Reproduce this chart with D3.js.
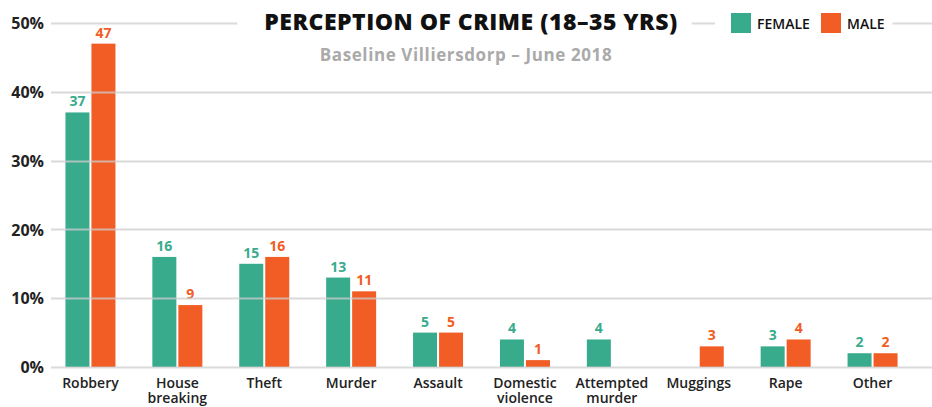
<!DOCTYPE html>
<html><head><meta charset="utf-8">
<script src="https://cdn.jsdelivr.net/npm/d3@7"></script>
<style>
body{margin:0;background:#fff;}
text{font-family:"Open Sans",sans-serif;}
</style></head>
<body><svg id="c" width="932" height="407"></svg>
<script>
const categories = ["Robbery","House breaking","Theft","Murder","Assault","Domestic violence","Attempted murder","Muggings","Rape","Other"];
const categoryLines = [["Robbery"],["House","breaking"],["Theft"],["Murder"],["Assault"],["Domestic","violence"],["Attempted","murder"],["Muggings"],["Rape"],["Other"]];
const female = [37,16,15,13,5,4,4,0,3,2];
const male = [47,9,16,11,5,1,0,3,4,2];
const yTicks = [0,10,20,30,40,50];
const seriesNames = ["FEMALE","MALE"];
const colors = ["#39AB8D","#F15D24"];
const title = "PERCEPTION OF CRIME (18–35 YRS)";
const subtitle = "Baseline Villiersdorp – June 2018";

const svg = d3.select("#c");
const left = 51, right = 932;
const y = d3.scaleLinear().domain([0,50]).range([367,23]);
const x = d3.scaleBand().domain(categories).range([47,916]).paddingInner(0).paddingOuter(0);
const bw = 24;

// bars
const series = [female, male];
series.forEach((vals, si) => {
  const g = svg.append("g");
  categories.forEach((c, i) => {
    const v = vals[i];
    if (v <= 0) return;
    const cx = x(c) + x.bandwidth()/2;
    const bx = cx + (si === 0 ? -bw - 1 : 1);
    g.append("rect").attr("x", bx).attr("y", y(v)).attr("width", bw).attr("height", y(0) - y(v)).attr("fill", colors[si]);
    g.append("text").attr("x", bx + bw/2).attr("y", y(v) - 6).attr("text-anchor","middle")
      .attr("font-size",14).attr("font-weight",700).attr("fill",colors[si]).text(v);
  });
});

// title
const tt = svg.append("text").attr("x",471).attr("y",30).attr("text-anchor","middle")
  .attr("font-size",23).attr("font-weight",800).attr("letter-spacing",0.5).attr("fill","#111").text(title);
svg.append("text").attr("x",466).attr("y",61).attr("text-anchor","middle")
  .attr("font-size",17).attr("font-weight",700).attr("letter-spacing",0.6).attr("fill","#aaaaaa").text(subtitle);

// legend
const lg = svg.append("g");
const legX = [731, 821];
seriesNames.forEach((n, i) => {
  lg.append("rect").attr("x", legX[i]).attr("y",13).attr("width",20).attr("height",20).attr("fill",colors[i]);
  lg.append("text").attr("x", legX[i]+26).attr("y",28.5).attr("font-size",14).attr("font-weight",600).attr("fill","#111").text(n);
});

// gridlines on top
const grid = svg.append("g").attr("stroke","rgba(205,205,205,0.75)").attr("stroke-width",2);
const tb = tt.node().getBBox();
const lb = lg.node().getBBox();
yTicks.forEach(t => {
  const yy = Math.round(y(t)) + 0.5;
  if (t === 50) {
    [[left, tb.x - 27],[tb.x + tb.width + 14, lb.x - 16],[lb.x + lb.width + 8, right]].forEach(s => {
      grid.append("line").attr("x1",s[0]).attr("x2",s[1]).attr("y1",yy).attr("y2",yy);
    });
  } else {
    grid.append("line").attr("x1",left).attr("x2",right).attr("y1",yy).attr("y2",yy);
  }
});

// y axis labels
const yAxis = d3.axisLeft(y).tickValues(yTicks).tickSize(0).tickFormat(d => d + "%");
const ya = svg.append("g").attr("transform","translate(44,0)").call(yAxis);
ya.select(".domain").remove();
ya.selectAll("text").attr("font-size",16).attr("font-weight",700).attr("fill","#222")
  .attr("font-family","Open Sans, sans-serif").attr("dy","0.35em").attr("x",0);

// x labels
categories.forEach((c, i) => {
  const cx = x(c) + x.bandwidth()/2;
  const t = svg.append("text").attr("x",cx).attr("y",388).attr("text-anchor","middle")
    .attr("font-size",14).attr("font-weight",600).attr("fill","#222");
  categoryLines[i].forEach((ln, j) => {
    t.append("tspan").attr("x",cx).attr("dy", j === 0 ? 0 : 15).text(ln);
  });
});
</script></body></html>
